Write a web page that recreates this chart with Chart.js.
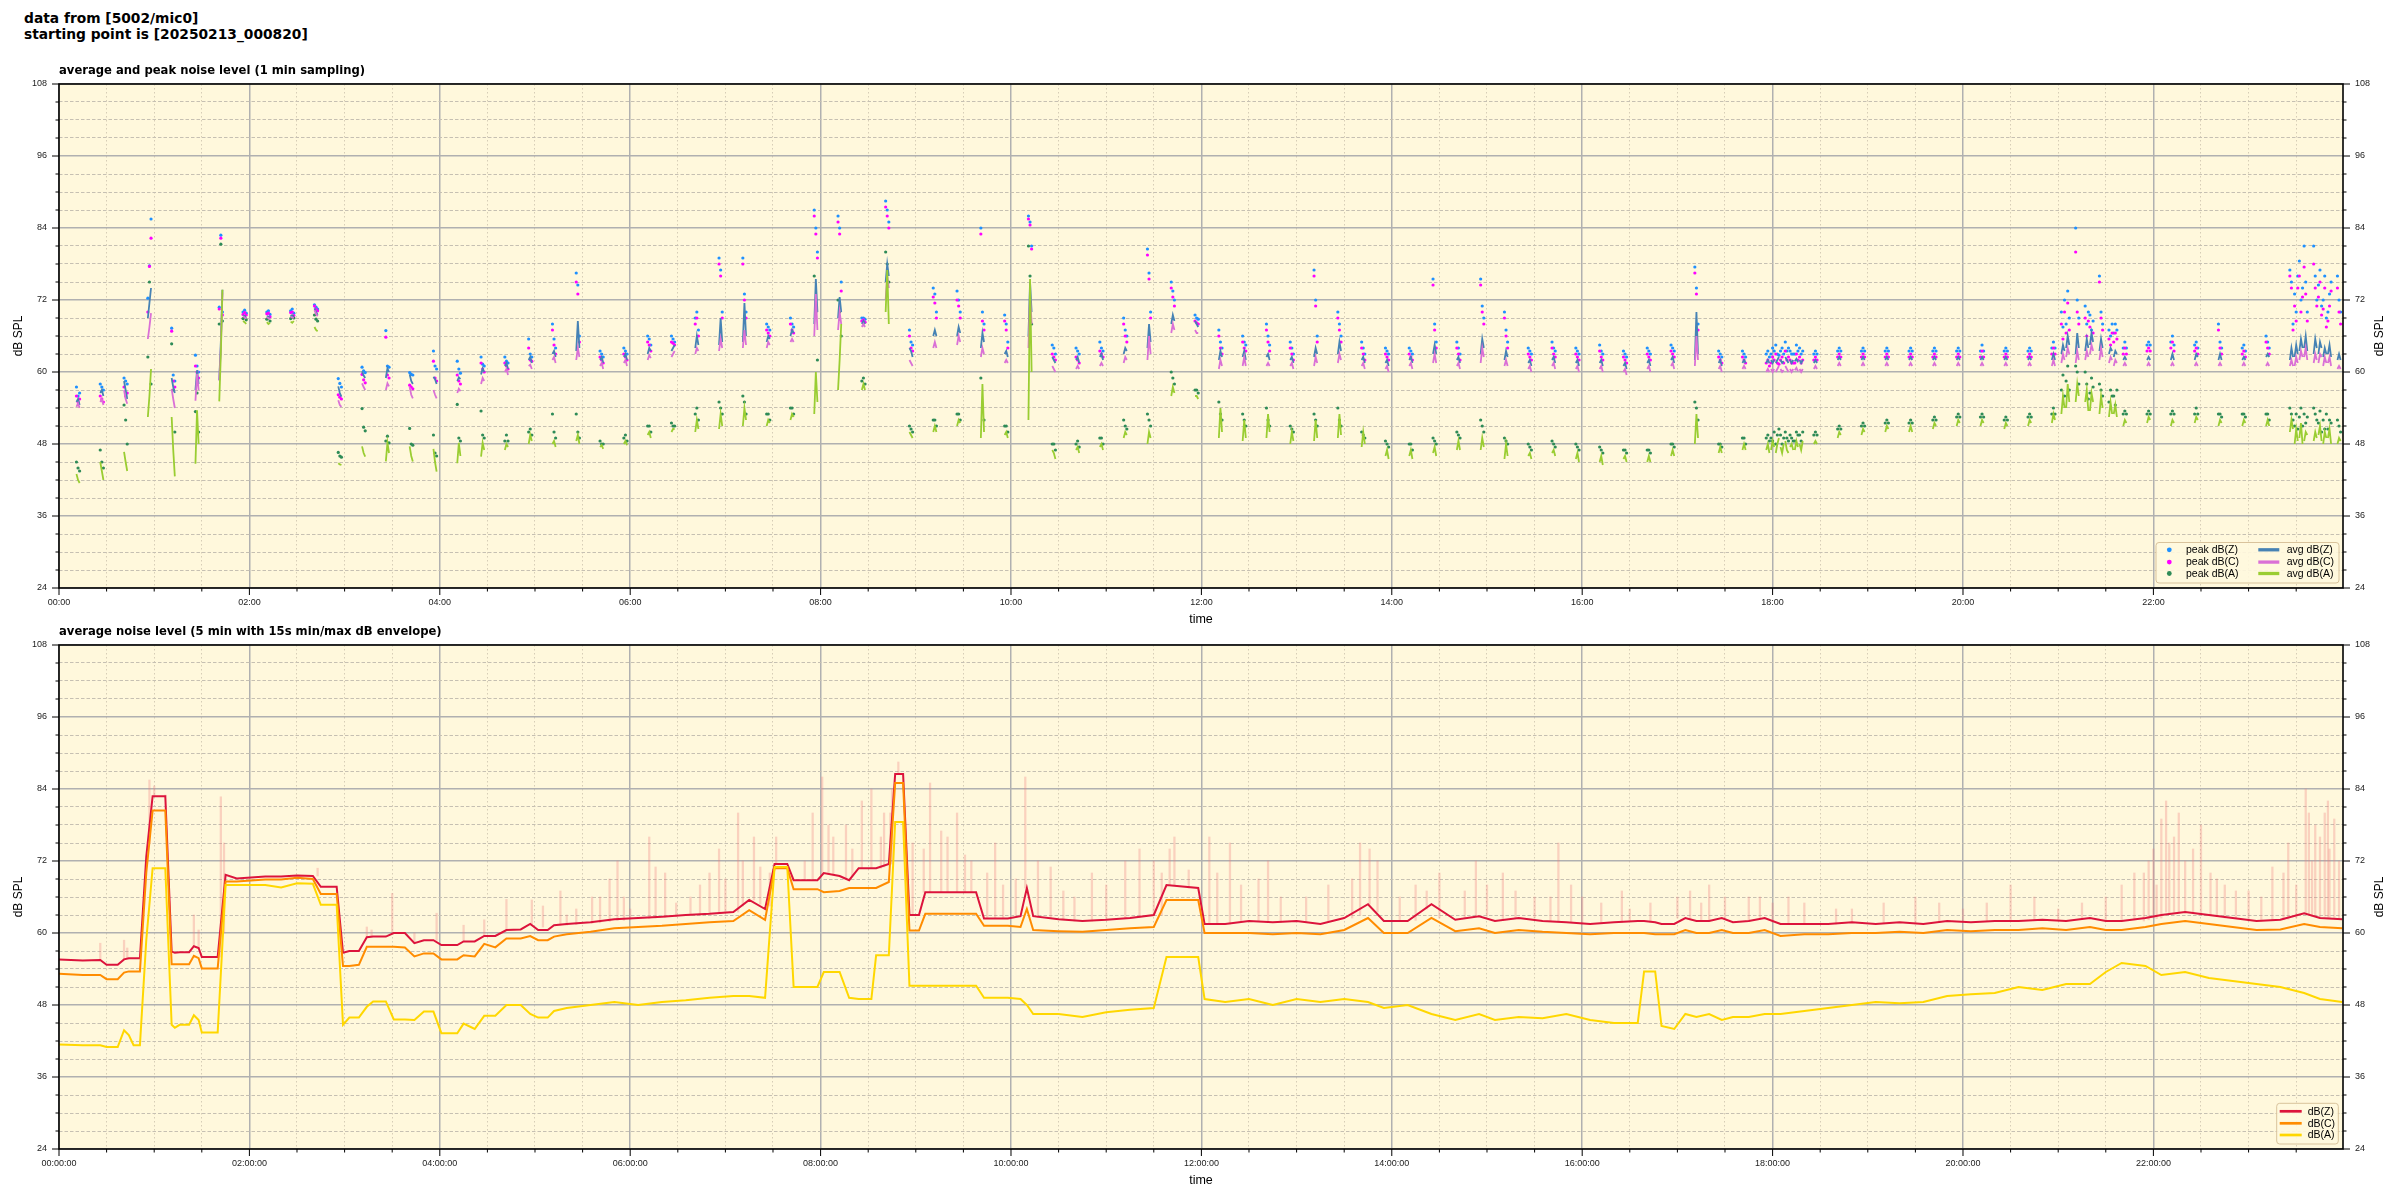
<!DOCTYPE html>
<html><head><meta charset="utf-8">
<script src="https://cdn.jsdelivr.net/npm/chart.js@4.4.1/dist/chart.umd.min.js"></script>
<style>
html,body{margin:0;padding:0;background:#fff;}
body{width:2400px;height:1200px;position:relative;overflow:hidden;}
#sup{position:absolute;left:24px;top:11px;font-family:"DejaVu Sans";font-weight:bold;font-size:13.8px;line-height:15.5px;white-space:pre;color:#000;}
canvas{position:absolute;left:0;}
#c1{top:45px;} #c2{top:600px;}
</style></head>
<body>
<div id="sup">data from [5002/mic0]
starting point is [20250213_000820]</div>
<canvas id="c1" width="2400" height="590"></canvas>
<canvas id="c2" width="2400" height="600"></canvas>
<script>
// ---------- top chart: 1-min bursts (start minute of each burst, 3 samples each) ----------
const burstMin = [11,26,41,56,71,86,101,116,131,146,161,176,191,206,221,236,251,266,281,296,311,326,341,356,371,386,401,416,431,446,461,476,491,506,521,536,551,566,581,596,611,626,641,656,671,686,701,716,731,746,761,776,791,806,821,836,851,866,881,896,911,926,941,956,971,986,1001,1016,1031,1046,1061,1076,1091,1106,1121,1136,1151,1166,1181,1196,1211,1226,1241,1256,1271,1286,1301,1316,1331,1346,1361,1376,1391,1406,1421,1436];
const avgZ = [
[55,55.5,54.5],[56.5,57,56],[58.5,57,55.5],[69,71.5,74],[59,57.5,56.5],[57,60.3,58],[58.6,65,73.7],[69.5,69.3,69],[69.3,69.2,69],[69.5,69.3,69.2],
[70.6,70,69.5],[57.6,56.5,55.9],[60.1,59.4,59],[59,60.6,60],[59.6,58.5,58],[59.2,58.8,58],[58.5,59.1,58.8],[59.6,60.6,60],[61,61.5,60.5],[62,62.5,61.5],
[63,63.5,62.5],[63.5,68.5,64],[62,62.5,61.5],[62.5,63,62],[63,64,63.5],[63.5,64,64.5],[64,66,64.5],[64.5,69,65],[65,71.5,66],[65,66,65.5],
[66,67,66.5],[68,75.5,70],[69,72.5,70],[68,68.5,68],[75,78,76],[64,63.5,62.5],[66,67,66],[66,67.5,66.5],[64,66.5,65],[63,63.5,62.5],
[66,75,70],[62.5,62,61.5],[62,62.5,61.5],[62.5,63,62],[63,64,63.5],[64,68,65],[68,69.5,68.5],[68.5,68,67.5],[62,63.5,62.5],[62.5,63.5,62],
[62.5,63,62],[62,62.5,61.5],[62.5,64,63],[63,65,63.5],[62,62.5,61.5],[61.5,62,61],[62,62.5,61.5],[63,64.5,63],[62,62.5,61.5],[63,65.5,64],
[62,63.5,62.5],[61.5,62,61],[62,62.5,61.5],[61.5,62,61],[61.5,62,61],[61,61.5,60.5],[61.5,62,61],[62,62.5,61.5],[62,70,63],[61.5,62,61],
[61.5,62,61.5],[61.5,62,61.5],[62,61.5,62],[61.5,62,61.5],[62,62.5,62],[62,62.5,62],[62,62.5,62],[62,62.5,62],[62,62.5,62],[62,62.5,62],
[62,62.5,62],[62,62.5,62],[62,62.5,62],[62,63,62],[63,66.5,64],[63.5,65.5,64],[62,62.5,62],[62,62.5,62],[62,63,62],[62,63,62.5],
[62,63,62],[62,62.5,62],[62.5,63,62.5],[62,64,62.5],[63,65.5,64],[62,63,62]];
const avgC = [
[54.2,54.8,54],[55,55.5,54.5],[57,55.5,54.7],[65.5,67.5,69.8],[57.2,55.5,54],[55.2,59.7,57],[58.6,64,73.2],[69.3,69.1,68.9],[69.1,69,68.8],[69.2,69.1,69],
[70.3,69.7,69.3],[55.3,54.5,54.2],[58.1,57.5,57],[57,58.1,57.6],[57.5,56.2,55.6],[57,56.2,55.6],[56.5,57.2,56.8],[58,59,58.5],[60,60.5,59.5],[61,61.2,60.5],
[62,62.5,61.5],[62,64,62.5],[61,61.5,60.5],[61.5,62,61],[62,62.8,62.3],[62.5,63,63.5],[63,64,63.5],[63.5,65.5,64],[64,67,64.5],[64,65,64.5],
[65,65.5,65],[66,73,67],[67,70,68],[67.5,68,67.5],[72,76,74],[62,61.5,61],[64,65,64],[64.5,66,65],[62.5,64,63],[61.5,62,61.5],
[64,73,68],[61,60.5,60],[60.5,61,60.5],[61,61.5,61],[61.5,62.5,62],[62,66,63],[66.5,68,67],[67,66.5,66.5],[60.5,62,61],[61,62.5,61],
[61,61.5,61],[61,61.5,60.5],[61,62.5,61.5],[61.5,63,62],[61,61.5,60.5],[60.5,61,60],[61,61.5,60.5],[61.5,63,61.5],[61,61.5,60.5],[61.5,64,62.5],
[61,62,61],[60.5,61,60],[61,61.5,60.5],[60.5,61,60],[60.5,61,60],[60,60.5,59.5],[60.5,61,60],[61,61.5,60.5],[61,66,62],[60.5,61,60],
[60.5,61,60.5],[60,60.5,60],[60.5,60,60.5],[60.5,61,60.5],[61,61.5,61],[61,61.5,61],[61,61.5,61],[61,61.5,61],[61,61.5,61],[61,61.5,61],
[61,61.5,61],[61,61.5,61],[61,61.5,61],[61,62,61],[61.5,63.5,62],[62,64,62.5],[61,61.5,61],[61,61.5,61],[61,61.5,61],[61,61.5,61],
[61,61.5,61],[61,61.5,61],[61,61.5,61],[61,62,61],[61.5,63,62],[60.5,61,60.5]];
const avgA = [
[43,42,41.5],[45,43.5,42],[46.7,45,43.5],[52.5,56,60.5],[52.5,47,42.6],[44.7,53.6,48],[55.1,63,73.7],[68.5,68.3,68],[68.3,68,68.2],[68.4,68.2,68.5],
[67.5,67,66.8],[44.8,44.6,44.5],[47.6,46.5,45.9],[45.1,48.2,46.5],[47.6,46,45.1],[47.2,45,43.4],[44.8,48.2,46],[45.9,48.2,47],[47,48,47.5],[48,49.5,48.5],
[48,48.5,47.5],[48.5,49.5,48],[47.5,47.8,47.2],[48,48.5,47.8],[49.5,50,49],[50,50.5,50.5],[50,52,50.5],[50.5,53,51],[51,54,52],[51,52,51.5],
[52,53,52.5],[53,60,55],[57,62,68],[57,58,57],[70,77,68],[50,49.5,49],[50,51,50],[51,52,51.5],[49,58,50],[49.5,50,49],
[52,75.5,60],[47,46.5,45.5],[47,47.5,46.5],[47.5,48,47],[49,50,49.5],[48,50,49],[56,57.5,56.5],[56,56,55.5],[49,54,50],[48.5,52,49],
[49,53,50],[48,50,48.5],[48.5,52,49],[49,53,49.5],[47.5,50,48],[46,47,45.5],[46,47,45.5],[46.5,47.5,46],[47,48.5,47],[47,49,47.5],
[45.5,48,46],[46,46.5,45.5],[46.5,47,46],[45.5,46.5,45],[45,46,44.5],[45.5,46,45],[45,46,45],[46,47,46],[48,53,49],[46.5,47.5,46.5],
[47,48,47],[47,48,46.5],[47.5,48,47],[48,48.5,48],[49,50,49.5],[49.5,50.5,50],[50,51,50.5],[50,51,50],[50.5,51.5,51],[51,52,51.5],
[51,52,51.5],[50.5,51.5,51],[51,52,51.5],[51.5,53,52],[55,58,56],[53,56,54],[51,52,51.5],[51.5,52.5,52],[51,52,51.5],[51.5,52.5,52],
[51,52,51.5],[51,52,51.5],[51,52,51],[50,52,50.5],[48.5,50,49],[48,49,48.5]];
const peakZ = [
[57.5,56,56.5],[58,57.5,57],[59,58.5,58],[72.3,77.7,85.5],[67.3,59.5,58.5],[62.8,61,60],[70.8,82.8,70],[70,70.3,69.8],[70,70.2,69.6],[70.2,70.5,69.8],
[71.2,70.8,70.5],[58.9,58.1,57.5],[60.8,60.2,59.9],[66.9,61,60.8],[59.9,59.6,59.5],[63.5,61,60.5],[61.8,60.5,59.8],[62.5,61.3,61],[62.5,61.8,61.5],[65.5,63,62.5],
[68,65.5,64],[76.5,74.5,66],[63.5,63,62.5],[64,63.5,63],[66,65.5,64.5],[66,65.5,65],[69,70,67],[79,77,70],[79,73,70],[68,67.5,67],
[69,68,67.5],[87,84,80],[86,84,75],[69,69,68.8],[88.5,87,85],[67,65,64.5],[74,73,70],[73.5,72,70],[84,70,68],[69.5,68,65],
[86,85,81],[64.5,64,63],[64,63.5,63],[65,64,63.5],[69,67,66],[80.5,76.5,70],[75,73.5,72],[69.5,69,68.8],[67,65,64],[66,65,64.5],
[68,66,64.5],[65,64,63],[77,72,66],[70,68,66],[65,64,63],[64,63.5,63],[64,63.5,63],[75.5,68,65],[65,64,63],[75.5,71,69],
[70,67,65],[64,63.5,63],[65,64,63.5],[64,63.5,63],[64.5,63.5,63],[63.5,63,62.5],[64,63.5,63],[64.5,64,63.5],[77.5,74,68],[63.5,63,62.5],
[63.5,63,62.5],[63,63.5,62.5],[63.5,63,63],[63,63.5,63],[63.5,64,63.5],[63.5,64,63.5],[63.5,64,63.5],[63.5,64,63.5],[63.5,64,63.5],[63.5,64,63.5],
[63.5,64.5,63.5],[63.5,64,63.5],[63.5,64,63.5],[64,65,64],[84,72,69],[76,70,68],[64,65,64],[64.5,65,64.5],[65,66,64.5],[64.5,65,64],
[68,65,64],[64,64.5,63.5],[66,65,64],[77,75,68],[81,76,72],[76,72,70]];
const peakC = [
[56,55,55.5],[56,55.5,55],[57.5,56,56.5],[70,77.6,82.3],[66.8,58.5,57.5],[61,60,59],[70.5,82.3,69.5],[69.6,69.9,69.5],[69.7,69.8,69.2],[69.9,70,69.4],
[71,70.5,70.2],[56.2,55.8,55.5],[59.6,58.7,58.2],[65.8,59.5,59],[57.8,57.5,57.2],[61.8,59,58.5],[59.5,58.5,58],[61.5,60.5,60],[61.5,61,60.5],[64,62,61.8],
[67,64.5,63],[75,73,65],[62.5,62,61.5],[63,62.5,62],[65,64.5,63.5],[65,64.8,64.5],[68,69,66],[78,76,69],[78,72,69],[67,66.5,66],
[68,67,66.5],[86,83,79],[85,83,73.5],[68.5,68.7,68.3],[87.5,86,84],[66,64,63.5],[72.5,71.5,69],[72,71,69],[83,68.5,67],[68.5,67,64],
[85.5,84.5,80.5],[63,62.5,62],[62.5,62,61.5],[63.5,63,62.5],[68,66,65],[79.5,75.5,69],[74,72.5,71],[68.5,68.2,68],[66,64,63],[65,64,63.5],
[67,65,63.5],[64,63,62],[76,71,65],[69,67,65],[64,63,62],[63,62.5,62],[63,62.5,62],[74.5,67,64],[64,63,62],[74.5,70,68],
[69,66,64],[63,62.5,62],[64,63,62.5],[63,62.5,62],[63.5,62.5,62],[62.5,62,61.5],[63,62.5,62],[63.5,63,62.5],[76.5,73,67],[62.5,62,61.5],
[62.5,62,61.5],[61.5,62,61],[62,61.5,61.5],[62,62.5,62],[62.5,63,62.5],[62.5,63,62.5],[62.5,63,62.5],[62.5,63,62.5],[62.5,63,62.5],[62.5,63,62.5],
[62.5,63.5,62.5],[62.5,63,62.5],[62.5,63,62.5],[63,64,63],[80,70,68],[75,69,67],[63,64,63],[63.5,64,63.5],[64,65,63.5],[63.5,64,63],
[67,64,63],[63,63.5,62.5],[65,64,63],[76,74,67],[78,74,71],[74,70,68]];
const peakA = [
[45,44,43.5],[47,45,44],[54.5,52,48],[62.5,75,58],[64.7,57,50],[53.4,56.5,50],[68,81.3,68.5],[68.9,69.2,68.7],[68.8,69,68.5],[68.9,69.3,69],
[69.5,68.8,68.5],[46.6,46,45.8],[53.9,50.8,50.2],[48.5,49.3,48.2],[50.6,48,47.8],[49.5,46.5,46],[54.6,49,48.5],[53.5,49.5,49],[48.5,49.5,48.5],[50,50.5,49.5],
[53,50,49],[53,50,49],[48.5,48,48],[49,49.5,48.5],[51,51,50],[51.5,51,51],[53,54,52],[55,54,53],[56,55,53],[53,53,52],
[54,54,53],[76,70,62],[72,70,66],[58.5,59,58],[80,78,75],[51,50.5,50],[52,52,51],[53,53,52],[59,54,52],[51,51,50],
[81,76,68],[48,48,47],[48,48.5,47.5],[49,49,48],[52,51,50.5],[53,52,51],[60,59,58],[57,57,56.5],[55,53,52],[53,52,51],
[54,52,51],[51,50.5,50],[53,52,51],[54,52,51],[50,49.5,49],[48.5,48,47.5],[48,48,47],[49,48.5,48],[50,49.5,49],[52,51,50],
[49,48.5,48],[48,47.5,47],[48.5,48,47.5],[48,47.5,47],[47.5,47,46.5],[47,47,46.5],[47,47,46.5],[48,48,47.5],[55,54,52],[48,48,47.5],
[49,49,48],[49,49.5,48.5],[49.5,49,48.5],[49.5,50,49.5],[50.5,51,50.5],[51,51.5,51],[51.5,52,51.5],[51.5,52,51.5],[52,52.5,52],[52.5,53,52.5],
[52.5,53,52.5],[52,52.5,52],[52.5,53,52.5],[53,54,53],[61,60,58],[58,57,56],[53,53.5,53],[53,53.5,53],[53,53.5,53],[53,54,53],
[53,53,52.5],[53,53,52.5],[53,53,52],[54,53,52],[54,53,52],[52,51,50]];
// extra bursts in the denser recording periods (18:00, 21:00, 23:30)
const extraMin = [1079,1082,1085,1088,1094,1097,1262,1265,1277,1280,1292,1295,1409,1412,1415,1424,1427,1430];
const exZ = [[62,61.5,62],[61.5,62,62.5],[62,61.5,61.8],[62.5,62,61.5],[61.8,62.2,61.6],[62,61.5,62],
  [63,64.5,63.5],[64,66,64.5],[63.5,65.5,64],[64.5,66.5,65],[63,64,63.5],[62.5,63.5,63],
  [62.5,64.5,63],[63.5,65.5,64],[64,66,63.5],[63,65,64],[62.5,64,63],[63,64.5,62.5]];
const exC = [[60.5,60,60.5],[60,60.5,61],[60.5,60,60.3],[61,60.5,60],[60.3,60.7,60.1],[60.5,60,60.5],
  [61.5,63,62],[62.5,64,63],[62,63.5,62.5],[63,64.5,63.5],[61.5,62.5,62],[61,62,61.5],
  [61,62.5,61.5],[62,63.5,62.5],[62.5,64,62],[61.5,63,62.5],[61,62.5,61.5],[61.5,62.5,61]];
const exA = [[47,48.5,47.5],[46.5,48,49],[47.5,46.5,48],[48.5,47,46.5],[47,48.5,47.5],[48,47,48.5],
  [53,56,54],[54,58,55],[55,57,53.5],[53.5,56.5,55],[52.5,55,53],[53,54.5,52.5],
  [48,50.5,48.5],[49,51.5,48],[48.5,50,49.5],[49.5,51,48.5],[48,50,49],[49,50.5,48]];
const exPZ = [[63,64,63.5],[64.5,63,62.8],[63.5,64,63],[65,63.5,64],[63,64.5,63.5],[64,63,63.5],
  [70,67.5,72],[68,73.5,69],[71,68,70],[69.5,67,68.5],[67,66,68],[66.5,68,67],
  [73,70,76],[78.5,72,74],[81,75,70],[74.5,77,71],[72,76,69],[70,73,75]];
const exPC = [[61.5,62.5,62],[63,61.5,61.3],[62,62.5,61.5],[63.5,62,62.5],[61.5,63,62],[62.5,61.5,62],
  [68,65.5,70],[66.5,71.5,67],[69,66,68.5],[67.5,65.5,66.5],[65.5,64.5,66.5],[65,66.5,65.5],
  [71,68.5,74],[76,70,72.5],[77.5,73,68.5],[72.5,75,69.5],[70.5,74,67.5],[68.5,71,73.5]];
const exPA = [[49,48.5,50],[48,49.5,50.5],[49.5,48,49],[50,49,48.5],[48.5,50,49.5],[49.5,48.5,50],
  [57,59.5,56],[58.5,61,57],[60,58,55.5],[56.5,59,57.5],[55,57,56],[56,54.5,57],
  [51,53,50.5],[52.5,54,51],[53,51.5,52.5],[51.5,53.5,50],[52,50.5,53],[50.5,52,51.5]];

// ---------- bottom chart: 5-min averages ----------
const bT = [0,15,26,30,37,41,44,47,51,55,
59,67,71,73,76,82,85,88,90,100,
105,112,130,140,150,160,165,175,179,183,
189,194,198,206,211,218,224,230,236,241,
251,255,262,268,275,282,291,297,302,308,
312,320,335,350,365,380,395,410,425,435,
445,451,459,463,478,482,492,498,504,512,
515,523,527,532,536,542,546,578,583,598,
606,610,614,630,645,660,675,690,698,718,
722,735,750,765,780,795,810,825,835,850,
865,880,895,905,920,935,950,965,980,995,
999,1006,1010,1018,1025,1032,1040,1048,1055,1065,
1075,1085,1100,1115,1130,1145,1160,1175,1190,1205,
1220,1235,1250,1265,1280,1290,1300,1315,1325,1340,
1355,1370,1385,1400,1415,1425,1439];
const bZ = [55.6,55.4,55.5,54.7,54.7,55.6,55.8,55.8,55.8,72.7,
82.8,82.8,56.9,56.7,56.8,56.8,57.8,57.5,56.0,56.0,
69.7,69.1,69.4,69.4,69.6,69.5,67.7,67.7,56.7,57.0,
57.0,59.3,59.4,59.4,60.0,60.0,58.3,58.8,58.8,58.0,
58.0,58.6,58.6,59.5,59.5,60.5,60.6,61.5,60.5,60.5,
61.3,61.5,61.8,62.3,62.5,62.7,63.0,63.2,63.5,65.5,
64.0,71.5,71.5,68.8,68.8,70.0,69.5,68.8,70.8,70.8,
70.8,71.5,86.5,86.5,63.0,63.0,66.8,66.8,62.4,62.4,
62.8,67.5,62.8,62.3,62.0,62.2,62.5,63.0,68.0,67.5,
61.5,61.5,62.0,61.8,62.0,61.5,62.5,64.8,62.0,62.0,
64.8,62.2,62.8,62.0,62.5,62.0,61.8,61.5,61.8,62.0,
62.0,61.8,61.5,61.5,62.5,62.0,62.0,62.5,61.8,62.0,
62.5,61.5,61.5,61.5,61.8,61.5,61.8,61.5,62.0,61.8,
62.0,62.0,62.2,62.0,62.5,62.0,62.0,62.5,63.0,63.5,
63.0,62.5,62.0,62.2,63.3,62.5,62.3];
const bC = [53.2,53.0,53.0,52.3,52.3,53.4,53.6,53.6,53.6,70.0,
80.4,80.4,54.8,54.8,54.8,54.8,56.2,55.8,54.1,54.1,
68.6,68.6,68.9,68.9,69.2,69.0,66.5,66.5,54.5,54.5,
54.7,57.7,57.7,57.7,57.7,57.6,56.1,56.6,56.6,55.6,
55.6,56.3,56.1,58.2,57.6,59.1,59.1,59.5,58.8,58.8,
59.4,59.8,60.2,60.8,61.0,61.2,61.5,61.8,62.0,63.8,
62.2,70.8,70.8,67.3,67.3,66.8,67.0,67.5,67.5,67.5,
67.5,68.5,85.0,85.0,60.4,60.4,63.2,63.2,61.2,61.2,
61.0,64.0,60.5,60.3,60.2,60.5,60.8,61.0,65.5,65.5,
60.0,60.0,60.0,59.8,60.0,59.8,60.5,62.5,60.0,60.0,
62.5,60.3,60.8,60.0,60.5,60.2,60.0,59.8,60.0,60.0,
60.0,59.8,59.8,59.8,60.5,60.0,60.0,60.5,60.0,60.0,
60.5,59.5,59.8,59.8,60.0,60.0,60.2,60.0,60.5,60.3,
60.5,60.5,60.8,60.5,61.0,60.5,60.5,61.0,61.5,62.0,
61.5,61.0,60.5,60.6,61.5,61.0,60.8];
const bA = [41.4,41.3,41.3,41.0,41.0,43.8,43.0,41.3,41.3,58.8,
70.8,70.8,44.7,44.2,44.7,44.7,46.3,45.5,43.4,43.4,
68.0,68.0,68.0,67.6,68.3,68.2,64.7,64.7,44.7,45.9,
45.9,47.7,48.6,48.6,45.6,45.6,45.5,46.9,46.9,43.3,
43.3,44.9,44.0,46.2,46.2,48.0,48.0,46.5,45.9,45.9,
47.0,47.5,48.0,48.5,48.0,48.5,48.8,49.2,49.5,49.5,
49.2,71.0,71.0,51.0,51.0,53.5,53.5,49.2,49.0,49.0,
56.3,56.3,78.5,78.5,51.2,51.2,51.2,51.2,49.2,49.2,
49.0,48.0,46.5,46.5,46.0,46.8,47.2,47.5,56.0,56.0,
49.0,48.5,49.0,48.0,49.0,48.5,49.0,48.5,47.5,48.0,
46.5,45.5,46.5,45.5,46.0,45.8,46.5,45.5,45.0,45.0,
53.6,53.6,44.5,44.0,46.5,46.0,46.5,45.5,46.0,46.0,
46.5,46.5,47.0,47.5,48.0,48.5,48.3,48.5,49.5,49.8,
50.0,51.0,50.5,51.5,51.5,53.5,55.0,54.5,53.0,53.5,
52.5,52.0,51.5,51.0,50.0,49.0,48.5];
// 15 s max envelope spikes of dB(Z): [minute, low, high]
const envSpikes = [
[26,55.5,58.3],[41,55.6,58.8],[43,55.8,57.5],[57,75,85.5],[60,82.8,84.5],[67,82.8,83],[85,57.8,63],[88,57.5,60.5],[102,56,82.7],[104,60,75],
[163,69.5,70.8],[194,59.3,61],[197,59.4,60.5],[210,60,66.6],[224,58.3,60],[238,58.8,63.3],[255,58.6,61.3],[268,59.5,62.2],[282,60.5,65.6],[298,61.5,65.5],
[305,61,64.5],[316,61.3,67],[320,61.3,63],[326,61.4,64],[336,61.6,66],[341,61.7,66],[347,61.9,69],[352,62.1,72],[356,62.1,66],[360,62.2,64],
[372,62.4,76],[376,62.5,71],[382,62.6,70],[389,62.7,65],[398,62.9,66],[404,63,68],[410,63.2,70],[416,63.3,74],[420,63.4,69],[428,63.5,80],
[431,64.5,72],[438,65.5,76],[442,64.8,71],[448,64.5,70],[452,71.5,76],[470,68.8,72],[475,68.8,80],[481,69.8,86],[485,69.8,78],[488,69.8,76],
[496,69,78],[500,69.5,74],[506,70.8,82],[512,70.8,84],[518,70.8,76],[520,71,80],[524,71.5,80],[525,71.5,84],[529,86.5,88.5],[538,63,75],
[545,66.8,74],[549,66.8,85],[556,66.8,77],[560,66.8,76],[566,66.8,80],[571,66.8,73],[575,66.8,72],[585,62.4,70],[590,62.4,75],[595,62.4,68],
[603,62.6,69],[609,67.5,86],[617,62.6,72],[625,62.4,71],[633,62.3,67],[640,62,66],[651,62,70],[660,62.2,68],[672,62.5,72],[681,62.6,74],
[690,63,72],[695,63,70],[700,68,74],[703,68,76],[712,67.5,70.5],[725,61.5,76],[730,61.5,70],[738,61.5,75],[745,62,68],[756,62,69],
[762,61.9,72],[770,61.8,66],[786,61.8,66],[800,62,68],[815,62.5,69],[820,63,75],[826,64.8,74],[831,63.5,72],[845,62,66],[855,62.1,68],
[862,64,67],[870,62.5,70],[886,62.4,67],[893,62.7,72],[900,62.8,68],[910,62.2,70],[918,62.4,67],[930,62.5,66],[940,62,66],[945,62,75],
[953,61.8,68],[960,61.5,66],[972,61.6,65],[985,61.8,67],[990,62,64],[1003,61.8,65],[1020,62.5,66],[1028,62.3,67],[1035,62,65],[1040,62,68],
[1050,62.4,66],[1065,62,66],[1072,62.3,66],[1080,61.8,65],[1090,61.5,66],[1100,61.5,65],[1120,61.5,64],[1130,61.8,64],[1150,61.6,65],[1170,61.5,66],
[1185,61.8,65],[1200,62,64],[1215,62,65],[1230,62,68],[1245,62.1,66],[1260,62.2,64],[1275,62.3,65],[1290,62,66],[1300,62,68],[1308,62.2,70],
[1314,62,70],[1317,62.2,72],[1320,62.5,74],[1322,62.4,68],[1325,62.5,79],[1328,63.5,82],[1330,63.2,75],[1333,63.5,76],[1336,63.5,80],[1340,63.5,72],
[1345,63.3,74],[1350,63,78],[1356,63,70],[1360,62.8,69],[1365,62.5,68],[1372,62.4,67],[1380,62,67],[1388,62,66],[1395,62.2,71],[1402,62.2,70],
[1405,62.3,75],[1410,62.5,68],[1416,63.3,84],[1418,63.2,80],[1420,62.8,72],[1422,62.8,78],[1425,62.5,76],[1428,62.8,80],[1430,62.5,82],[1431,62.5,74],
[1434,62.5,79],[1437,62.5,72]];

const topNames = ['peak dB(Z)','peak dB(C)','peak dB(A)','avg dB(Z)','avg dB(C)','avg dB(A)'];
const botNames = ['dB(Z)','dB(C)','dB(A)'];
const topTitle = 'average and peak noise level (1 min sampling)';
const botTitle = 'average noise level (5 min with 15s min/max dB envelope)';

// tick positions (minutes / dB)
const xTickVals = []; for (let m = 0; m <= 1410; m += 30) xTickVals.push(m);
const yTickVals = []; for (let v = 24; v <= 108; v += 3) yTickVals.push(v);
const X_MAX = 1439.5;

const FONT = '"Liberation Sans", Arial, sans-serif';
const BG = '#fff8dc';
const COL = {pZ:'#1e90ff', pC:'#ff00ff', pA:'#2e8b57', aZ:'#4682b4', aC:'#da70d6', aA:'#9acd32',
             Z:'#dc143c', C:'#ff8c00', A:'#ffd700'};

const pad2 = n => String(n).padStart(2,'0');
function fmtTime(m, sec){ if (m % 120 !== 0) return ''; return pad2(Math.floor(m/60)) + ':' + pad2(m%60) + (sec ? ':00' : ''); }

// merge regular and extra bursts in time order
const bursts = [];
burstMin.forEach((t,k) => bursts.push({t, z:avgZ[k], c:avgC[k], a:avgA[k], pz:peakZ[k], pc:peakC[k], pa:peakA[k]}));
extraMin.forEach((t,k) => bursts.push({t, z:exZ[k], c:exC[k], a:exA[k], pz:exPZ[k], pc:exPC[k], pa:exPA[k]}));
bursts.sort((p,q) => p.t - q.t);

function burstLine(key){
  const pts = [];
  bursts.forEach(b => { b[key].forEach((v,j) => pts.push({x:b.t+j, y:v})); pts.push({x:b.t+2.5, y:null}); });
  return pts;
}
function burstPts(key){
  const pts = [];
  bursts.forEach(b => b[key].forEach((v,j) => pts.push({x:b.t+j, y:v})));
  return pts;
}
function series(ts, vs){ const n = Math.min(ts.length, vs.length); const out=[]; for (let i=0;i<n;i++) out.push({x:ts[i], y:vs[i]}); return out; }

function roundRect(ctx,x,y,w,h,r){ ctx.beginPath(); ctx.moveTo(x+r,y); ctx.lineTo(x+w-r,y); ctx.quadraticCurveTo(x+w,y,x+w,y+r); ctx.lineTo(x+w,y+h-r); ctx.quadraticCurveTo(x+w,y+h,x+w-r,y+h); ctx.lineTo(x+r,y+h); ctx.quadraticCurveTo(x,y+h,x,y+h-r); ctx.lineTo(x,y+r); ctx.quadraticCurveTo(x,y,x+r,y); ctx.closePath(); }

function legendTop(ctx, a){
  const w = 183, h = 40.5, x0 = a.right - 4 - w, y0 = a.bottom - 5 - h;
  roundRect(ctx, x0, y0, w, h, 3); ctx.fillStyle = 'rgba(255,248,222,0.9)'; ctx.fill();
  ctx.strokeStyle = '#d9c39c'; ctx.lineWidth = 1; ctx.stroke();
  const rows = [y0+7.3, y0+19.6, y0+31];
  const pc = [COL.pZ, COL.pC, COL.pA], lc = [COL.aZ, COL.aC, COL.aA];
  ctx.font = '10.5px ' + FONT; ctx.textBaseline = 'middle'; ctx.textAlign = 'left';
  rows.forEach((y,i) => {
    ctx.fillStyle = pc[i]; ctx.beginPath(); ctx.arc(x0+13.3, y, 2.4, 0, Math.PI*2); ctx.fill();
    ctx.fillStyle = '#000'; ctx.fillText(topNames[i], x0+30, y+0.5);
    ctx.strokeStyle = lc[i]; ctx.lineWidth = 3.3; ctx.beginPath(); ctx.moveTo(x0+102.3, y); ctx.lineTo(x0+123.3, y); ctx.stroke();
    ctx.fillStyle = '#000'; ctx.fillText(topNames[i+3], x0+130.7, y+0.5);
  });
}
function legendBot(ctx, a){
  const w = 61.6, h = 40.7, x0 = a.right - 4.7 - w, y0 = a.bottom - 5 - h;
  roundRect(ctx, x0, y0, w, h, 3); ctx.fillStyle = 'rgba(255,248,222,0.9)'; ctx.fill();
  ctx.strokeStyle = '#d9c39c'; ctx.lineWidth = 1; ctx.stroke();
  const rows = [y0+8, y0+20, y0+31.7];
  const lc = [COL.Z, COL.C, COL.A];
  ctx.font = '10.5px ' + FONT; ctx.textBaseline = 'middle'; ctx.textAlign = 'left';
  rows.forEach((y,i) => {
    ctx.strokeStyle = lc[i]; ctx.lineWidth = 2.7; ctx.beginPath(); ctx.moveTo(x0+3, y); ctx.lineTo(x0+25, y); ctx.stroke();
    ctx.fillStyle = '#000'; ctx.fillText(botNames[i], x0+31, y+0.5);
  });
}

function decoPlugin(title, legendFn){
  return {
    id: 'deco',
    beforeDraw(chart){ const {ctx, chartArea:a} = chart; ctx.save(); ctx.fillStyle = BG; ctx.fillRect(a.left, a.top, a.right-a.left, a.bottom-a.top); ctx.restore(); },
    afterDraw(chart){
      const {ctx, chartArea:a, scales} = chart;
      ctx.save();
      legendFn(ctx, a);
      ctx.strokeStyle = '#000'; ctx.lineWidth = 1.6;
      ctx.strokeRect(a.left, a.top, a.right-a.left, a.bottom-a.top);
      ctx.lineWidth = 1; ctx.beginPath();
      yTickVals.forEach(v => { const y = scales.y.getPixelForValue(v); const L = v % 12 === 0 ? 7 : 3.5;
        ctx.moveTo(a.left-L, y); ctx.lineTo(a.left, y); ctx.moveTo(a.right, y); ctx.lineTo(a.right+L, y); });
      xTickVals.forEach(t => { const x = scales.x.getPixelForValue(t); const L = t % 120 === 0 ? 7 : 3.5;
        ctx.moveTo(x, a.bottom); ctx.lineTo(x, a.bottom+L); });
      ctx.stroke();
      ctx.fillStyle = '#000'; ctx.font = 'bold 11.6px "DejaVu Sans"'; ctx.textAlign = 'left'; ctx.textBaseline = 'alphabetic';
      ctx.fillText(title, a.left, a.top - 9.7);
      ctx.save(); ctx.translate(2380, (a.top + a.bottom)/2); ctx.rotate(-Math.PI/2);
      ctx.font = '12px ' + FONT; ctx.textAlign = 'center'; ctx.textBaseline = 'middle'; ctx.fillText('dB SPL', 0, 0); ctx.restore();
      ctx.restore();
    }
  };
}

function makeScales(xHeight, xTitlePad, withSec){
  const majX = c => c.tick && c.tick.value % 120 === 0;
  const majY = c => c.tick && c.tick.value % 12 === 0;
  const yTicks = {autoSkip:false, padding:12, font:{family:FONT, size:9}, color:'#222', callback: v => (v % 12 === 0 ? String(v) : '')};
  return {
    x: {type:'linear', min:0, max:X_MAX, offset:false,
        afterBuildTicks: s => { s.ticks = xTickVals.map(v => ({value:v})); },
        afterFit: s => { s.height = xHeight; },
        grid: {offset:false, drawTicks:false, color: c => majX(c) ? '#b0b0b0' : '#d6cdb6', lineWidth: c => majX(c) ? 1.5 : 1},
        border: {display:false, dash: c => (c.tick && c.tick.value % 120 !== 0) ? [1.5,2.5] : []},
        ticks: {autoSkip:false, maxRotation:0, padding:9.6, font:{family:FONT, size:9}, color:'#222', callback: v => fmtTime(v, withSec)},
        title: {display:true, text:'time', font:{family:FONT, size:12.5}, color:'#000', padding:{top:0, bottom:xTitlePad}}},
    y: {position:'left', min:24, max:108,
        afterBuildTicks: s => { s.ticks = yTickVals.map(v => ({value:v})); },
        afterFit: s => { s.width = 59; },
        grid: {drawTicks:false, color: c => majY(c) ? '#b0b0b0' : '#c6c0b2', lineWidth: c => majY(c) ? 1.5 : 1},
        border: {display:false, dash: c => (c.tick && c.tick.value % 12 !== 0) ? [3.5,2] : []},
        ticks: yTicks,
        title: {display:true, text:'dB SPL', font:{family:FONT, size:12}, color:'#000', padding:{top:11.8, bottom:0}}},
    y2: {position:'right', min:24, max:108,
        afterBuildTicks: s => { s.ticks = yTickVals.map(v => ({value:v})); },
        afterFit: s => { s.width = 57; },
        grid: {drawOnChartArea:false, drawTicks:false},
        border: {display:false},
        ticks: yTicks}
  };
}

const common = {responsive:false, animation:false, devicePixelRatio:1, events:[],
  plugins:{legend:{display:false}, tooltip:{enabled:false}}};

new Chart(document.getElementById('c1'), {
  type: 'line',
  data: {datasets: [
    {label:topNames[5], data:burstLine('a'), borderColor:COL.aA, borderWidth:1.8, pointRadius:0, spanGaps:false, order:0},
    {label:topNames[4], data:burstLine('c'), borderColor:COL.aC, borderWidth:1.8, pointRadius:0, spanGaps:false, order:1},
    {label:topNames[3], data:burstLine('z'), borderColor:COL.aZ, borderWidth:1.8, pointRadius:0, spanGaps:false, order:2},
    {label:topNames[2], data:burstPts('pa'), showLine:false, pointRadius:1.6, pointBorderWidth:0, pointBackgroundColor:COL.pA, order:3},
    {label:topNames[1], data:burstPts('pc'), showLine:false, pointRadius:1.6, pointBorderWidth:0, pointBackgroundColor:COL.pC, order:4},
    {label:topNames[0], data:burstPts('pz'), showLine:false, pointRadius:1.6, pointBorderWidth:0, pointBackgroundColor:COL.pZ, order:5}
  ]},
  options: Object.assign({}, common, {layout:{padding:{top:39, left:0, right:0, bottom:0}}, scales: makeScales(47, 7.8, false)}),
  plugins: [decoPlugin(topTitle, legendTop)]
});

new Chart(document.getElementById('c2'), {
  type: 'line',
  data: {datasets: [
    {label:botNames[2], data:series(bT,bA), borderColor:COL.A, borderWidth:2, pointRadius:0, order:0},
    {label:botNames[1], data:series(bT,bC), borderColor:COL.C, borderWidth:2, pointRadius:0, order:1},
    {label:botNames[0], data:series(bT,bZ), borderColor:COL.Z, borderWidth:2, pointRadius:0, order:2},
    {type:'bar', label:'envelope', data: envSpikes.map(s => ({x:s[0], y:[s[1], s[2]]})),
     backgroundColor:'rgba(240,128,128,0.32)', borderWidth:0, barThickness:1.6, grouped:false, order:3}
  ]},
  options: Object.assign({}, common, {layout:{padding:{top:45, left:0, right:0, bottom:0}}, scales: makeScales(51, 11.8, true)}),
  plugins: [decoPlugin(botTitle, legendBot)]
});
</script>
</body></html>
